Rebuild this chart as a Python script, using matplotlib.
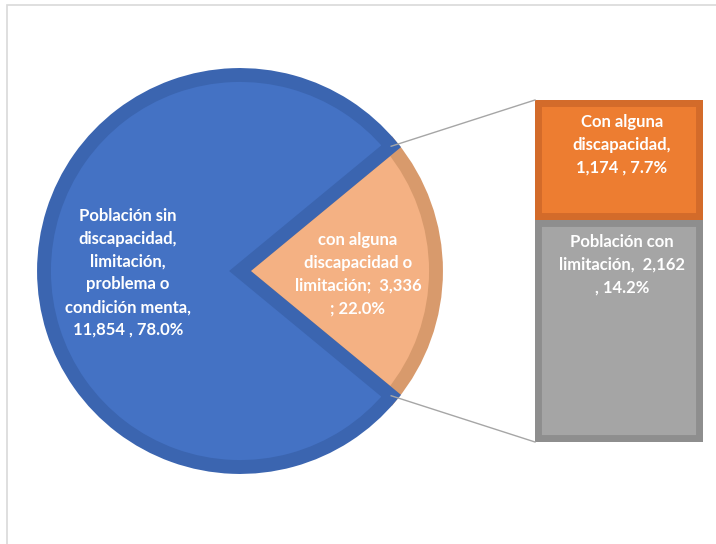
import matplotlib.pyplot as plt
from matplotlib.patches import Rectangle
import numpy as np

# values from the chart
pie_labels = ['Población sin\ndiscapacidad,\nlimitación,\nproblema o\ncondición menta,\n11,854 , 78.0%',
              'con alguna\ndiscapacidad o\nlimitación;  3,336\n; 22.0%']
pie_values = [11854, 3336]
bar_labels = ['Población con\nlimitación,  2,162\n, 14.2%',
              'Con alguna\ndiscapacidad,\n1,174 , 7.7%']
bar_values = [2162, 1174]

pie_colors = ['#4472C4', '#F4B183']
pie_edges = ['#3B65B0', '#D89A6C']
bar_colors = ['#A5A5A5', '#ED7D31']
bar_edges = ['#8E8E8E', '#D36B2A']

plt.rcParams['font.family'] = ['Lato', 'DejaVu Sans']

fig = plt.figure(figsize=(7.16, 5.44), dpi=100)
ax = fig.add_axes([0, 0, 1, 1])

# chart frame
ax.add_patch(Rectangle((7, -10), 720, 549, fill=False, edgecolor='#D9D9D9', lw=1.2))

# pie: small slice centred on the right side
total = sum(pie_values)
half = 360 * pie_values[1] / total / 2
cx, cy, r = 240, 273, 196
wedges, _ = ax.pie(pie_values[::-1], colors=pie_colors[::-1], startangle=-half,
                   center=(cx, cy), radius=r, frame=True,
                   wedgeprops=dict(linewidth=10))
for w, ec in zip(wedges, pie_edges[::-1]):
    w.set_edgecolor(ec)
    w.set_clip_path(w)

# stacked bar for the breakdown
bar_x, bar_w, bar_bottom, bar_h = 619, 168, 102, 342
scale = bar_h / pie_values[1]
bottom = bar_bottom
for v, c, ec in zip(bar_values, bar_colors, bar_edges):
    b = ax.bar(bar_x, v * scale, width=bar_w, bottom=bottom, color=c,
               edgecolor=ec, linewidth=10)[0]
    b.set_clip_path(b)
    bottom += v * scale

# connector lines
for ang, by in [(half, bar_bottom + bar_h), (-half, bar_bottom)]:
    px = cx + r * np.cos(np.radians(ang))
    py = cy + r * np.sin(np.radians(ang))
    ax.plot([px, bar_x - bar_w / 2], [py, by], color='#A6A6A6', lw=1)

ax.set_xlim(0, 716)
ax.set_ylim(0, 544)
ax.set_aspect('equal')
ax.axis('off')

txt = dict(color='white', fontweight='bold', fontsize=12, ha='center',
           va='center', multialignment='center', linespacing=1.52)
ax.text(128, 544 - 273, pie_labels[0], **txt)
ax.text(358, 544 - 274, pie_labels[1], **txt)
ax.text(622, 544 - 265, bar_labels[0], **txt)
ax.text(622, 544 - 145, bar_labels[1], **txt)

plt.savefig('out.png', dpi=100)
